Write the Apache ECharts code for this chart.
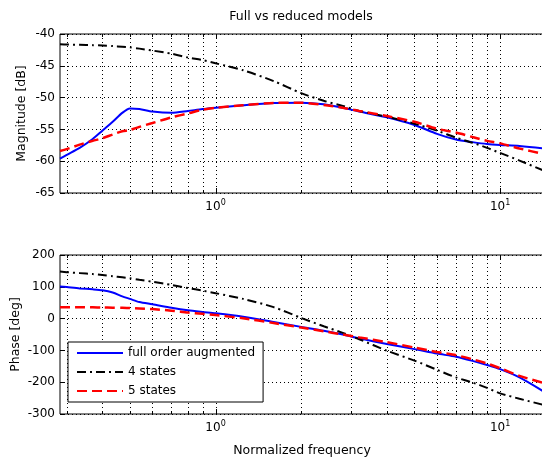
<!DOCTYPE html>
<html>
<head>
<meta charset="utf-8">
<script src="https://cdn.jsdelivr.net/npm/echarts@6/dist/echarts.min.js"></script>
<style>
  html, body { margin: 0; padding: 0; background: #fff; }
  #chart { width: 542px; height: 461px; }
</style>
</head>
<body>
<div id="chart"></div>
<script>
// Normalized frequency samples (shared by every curve)
const freq = [0.284, 0.3, 0.333, 0.37, 0.4, 0.435, 0.47, 0.5, 0.54, 0.6, 0.7, 0.8, 0.9, 1.0,
  1.25, 1.6, 2.0, 2.4, 2.8, 3.2, 4.0, 5.0, 6.0, 7.0, 8.0, 9.0, 10, 11.7, 14.27];

// Magnitude [dB]
const magFull = [-59.6, -59.0, -57.9, -56.5, -55.2, -53.8, -52.4, -51.7, -51.8, -52.2, -52.4, -52.1, -51.8, -51.6,
  -51.2, -50.85, -50.8, -51.05, -51.6, -52.2, -53.1, -54.3, -55.7, -56.6, -57.0, -57.3, -57.45, -57.6, -58.0];
const mag4 = [-41.6, -41.65, -41.7, -41.75, -41.8, -41.9, -42.0, -42.1, -42.3, -42.6, -43.1, -43.7, -44.1, -44.6,
  -45.7, -47.4, -49.3, -50.5, -51.3, -52.1, -53.0, -54.1, -55.2, -56.3, -57.1, -57.9, -58.7, -59.9, -61.5];
const mag5 = [-58.4, -58.1, -57.4, -56.8, -56.4, -55.8, -55.3, -55.1, -54.6, -54.0, -53.1, -52.5, -51.9, -51.6,
  -51.2, -50.85, -50.8, -51.15, -51.6, -52.1, -52.9, -53.8, -54.9, -55.5, -56.2, -56.8, -57.2, -58.0, -58.9];

// Phase [deg]
const phaseFull = [101, 99, 95, 92, 89, 82, 70, 62, 52, 45, 34, 26, 21, 17,
  6, -11, -26, -38, -50, -62, -80, -96, -110, -120, -133, -146, -159, -185, -230];
const phase4 = [148, 146, 143, 140, 137, 133, 130, 127, 122, 116, 106, 96, 88, 80,
  62, 36, 2, -24, -45, -65, -101, -132, -161, -185, -201, -218, -235, -252, -272];
const phase5 = [36, 36, 36, 35.5, 35, 34.5, 34, 33, 32, 30, 25, 19, 15, 11,
  1, -14, -28, -40, -50, -59, -74, -91, -105, -115, -128, -141, -156, -180, -203];

// Axis ranges and tick values
const freqRange = [0.284, 14.27];
const magRange = [-65, -40];
const magStep = 5;
const phaseRange = [-300, 200];
const phaseStep = 100;
const freqGridValues = [0.3, 0.4, 0.5, 0.6, 0.7, 0.8, 0.9, 1, 2, 3, 4, 5, 6, 7, 8, 9, 10];
const freqMajor = [1, 10];

const seriesNames = ['full order augmented', '4 states', '5 states'];
const FONT = 'DejaVu Sans';

const chart = echarts.init(document.getElementById('chart'), null, { renderer: 'canvas' });

// Dotted vertical grid lines plus inward ticks on the bottom and top frame edges
function freqGrid(yMin, yMax) {
  return function (params, api) {
    const x = api.value(0);
    const top = api.coord([x, yMax]);
    const bot = api.coord([x, yMin]);
    const px = Math.round(top[0]) + 0.5;
    const t = freqMajor.indexOf(x) >= 0 ? 5 : 3;
    return {
      type: 'group',
      children: [
        { type: 'line', shape: { x1: px, y1: top[1], x2: px, y2: bot[1] },
          style: { stroke: '#000', lineWidth: 1, lineDash: [1, 3] } },
        { type: 'line', shape: { x1: px, y1: bot[1], x2: px, y2: bot[1] - t },
          style: { stroke: '#000', lineWidth: 1 } },
        { type: 'line', shape: { x1: px, y1: top[1], x2: px, y2: top[1] + t },
          style: { stroke: '#000', lineWidth: 1 } }
      ]
    };
  };
}

function gridSeries(idx, range) {
  return {
    type: 'custom',
    name: 'grid' + idx,
    xAxisIndex: idx,
    yAxisIndex: idx,
    silent: true,
    z: 1,
    data: freqGridValues.map(v => [v, range[0]]),
    renderItem: freqGrid(range[0], range[1])
  };
}

function curve(nameIdx, ys, idx, color, width, type) {
  return {
    type: 'line',
    name: seriesNames[nameIdx],
    xAxisIndex: idx,
    yAxisIndex: idx,
    data: freq.map((f, i) => [f, ys[i]]),
    symbol: 'none',
    showSymbol: false,
    smooth: 0.25,
    z: 3,
    itemStyle: { color: color },
    lineStyle: { color: color, width: width, type: type }
  };
}

function isPow10(v) {
  const l = Math.log10(v);
  return Math.abs(l - Math.round(l)) < 1e-6;
}

function xAxis(idx, withName) {
  const ax = {
    type: 'log',
    logBase: 10,
    gridIndex: idx,
    min: freqRange[0],
    max: freqRange[1],
    axisLine: { show: false },
    axisTick: { show: false },
    splitLine: { show: false },
    axisLabel: {
      margin: 6,
      color: '#000',
      formatter: function (v) {
        if (!isPow10(v)) return '';
        return '{b|10}{s|' + Math.round(Math.log10(v)) + '}';
      },
      rich: {
        b: { fontFamily: FONT, fontSize: 12, lineHeight: 14, color: '#000', verticalAlign: 'bottom' },
        s: { fontFamily: FONT, fontSize: 8, lineHeight: 8, padding: [0, 0, 10, 0], color: '#000', verticalAlign: 'top' }
      }
    }
  };
  if (withName) {
    ax.name = 'Normalized frequency';
    ax.nameLocation = 'middle';
    ax.nameGap = 30;
    ax.nameMoveOverlap = false;
    ax.nameTextStyle = { fontFamily: FONT, fontSize: 12.5, color: '#000' };
  }
  return ax;
}

function yAxis(idx, range, step, name, gap) {
  return {
    type: 'value',
    gridIndex: idx,
    min: range[0],
    max: range[1],
    interval: step,
    name: name,
    nameLocation: 'middle',
    nameGap: gap,
    nameMoveOverlap: false,
    nameTextStyle: { fontFamily: FONT, fontSize: 12.5, color: '#000' },
    axisLine: { show: false },
    axisTick: { show: true, inside: true, length: 5, lineStyle: { color: '#000', width: 1 } },
    axisLabel: { fontFamily: FONT, fontSize: 12, color: '#000', margin: 5 },
    splitLine: { show: true, lineStyle: { color: '#000', width: 1, type: [1, 3] } }
  };
}

const gridBox = { show: true, borderColor: '#000', borderWidth: 1, backgroundColor: 'transparent',
  containLabel: false, outerBoundsMode: 'none' };

chart.setOption({
  animation: false,
  backgroundColor: '#fff',
  textStyle: { fontFamily: FONT },
  title: {
    text: 'Full vs reduced models',
    left: 301,
    top: 10,
    padding: 0,
    textAlign: 'center',
    textStyle: { fontFamily: FONT, fontSize: 12.5, fontWeight: 'normal', color: '#000' }
  },
  legend: {
    data: seriesNames,
    orient: 'vertical',
    left: 68,
    top: 342,
    itemWidth: 46,
    itemHeight: 14,
    itemGap: 7,
    padding: [5, 8, 5, 8],
    backgroundColor: '#fff',
    borderColor: '#000',
    borderWidth: 1,
    borderRadius: 0,
    selectedMode: false,
    // line samples only, no marker on them
    itemStyle: { color: 'transparent', borderWidth: 0, opacity: 0 },
    textStyle: { fontFamily: FONT, fontSize: 12, color: '#000' }
  },
  grid: [
    Object.assign({ left: 60, top: 34, width: 484, height: 159 }, gridBox),
    Object.assign({ left: 60, top: 255, width: 484, height: 159 }, gridBox)
  ],
  xAxis: [xAxis(0, false), xAxis(1, true)],
  yAxis: [
    yAxis(0, magRange, magStep, 'Magnitude [dB]', 32),
    yAxis(1, phaseRange, phaseStep, 'Phase [deg]', 38)
  ],
  series: [
    gridSeries(0, magRange),
    gridSeries(1, phaseRange),
    curve(0, magFull, 0, '#0000ff', 2, 'solid'),
    curve(1, mag4, 0, '#000000', 2, [9, 4, 2, 4]),
    curve(2, mag5, 0, '#ff0000', 2.5, [10, 5]),
    curve(0, phaseFull, 1, '#0000ff', 2, 'solid'),
    curve(1, phase4, 1, '#000000', 2, [9, 4, 2, 4]),
    curve(2, phase5, 1, '#ff0000', 2.5, [10, 5])
  ]
});
</script>
</body>
</html>
